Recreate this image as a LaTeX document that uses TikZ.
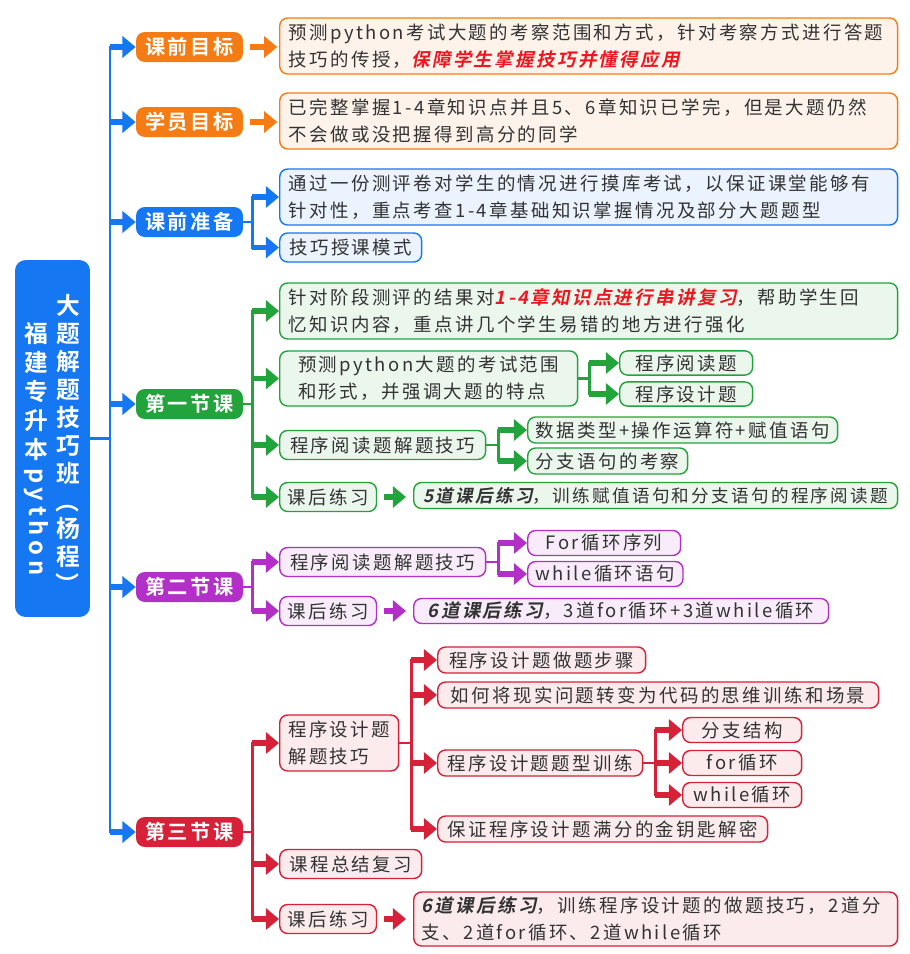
\documentclass[tikz,border=0pt]{standalone}
\usepackage{fontspec}
\setmainfont{Noto Sans CJK SC}[LetterSpace=13, BoldFont={Noto Sans CJK SC Bold}]
\newfontfamily\slbold{Noto Sans CJK SC Bold}[FakeSlant=0.2, LetterSpace=13]
\usepackage{xcolor}
\usetikzlibrary{arrows.meta}
\definecolor{corange}{HTML}{F57C14}
\definecolor{cblue}{HTML}{1677F2}
\definecolor{cgreen}{HTML}{22A33B}
\definecolor{cpurple}{HTML}{B22FC8}
\definecolor{cred}{HTML}{D62139}
\definecolor{hotred}{HTML}{EE1620}
\definecolor{inkdark}{HTML}{333333}
\newcommand{\redhl}[1]{{\slbold\color{hotred}#1}}
\newcommand{\blkhl}[1]{{\slbold\color{inkdark}#1}}
\tikzset{
  titlebox/.style={
    fill=cblue,
    rounded corners=6pt,
    minimum width=1.5cm,
    minimum height=7.14cm
  },
  titletext/.style={
    text=white,
    align=center,
    inner sep=0pt,
    anchor=north
  },
  topicbox/.style={
    fill=#1,
    text=white,
    rounded corners=5pt,
    minimum width=2.14cm,
    minimum height=0.6cm,
    inner sep=2pt,
    font=\fontsize{11.5}{13}\selectfont\bfseries
  },
  leafbox/.style={
    draw=#1,
    fill=#1!9,
    line width=0.8pt,
    rounded corners=4.5pt,
    text=inkdark,
    inner xsep=4.5pt,
    inner ysep=2pt,
    minimum height=0.52cm,
    align=left,
    anchor=west,
    font=\fontsize{10.5}{15.3}\selectfont
  },
  widebox/.style={
    minimum width=12.36cm,
    text width=12.0cm,
    minimum height=1.12cm
  },
  trunk/.style={draw=#1, line width=1.6pt, line cap=rect},
  flow/.style={draw=#1, line width=3.4pt, -{Triangle[length=7.5pt,width=12pt]}}
}
\begin{document}
\begin{tikzpicture}[x=0.02cm, y=-0.02cm]
  \useasboundingbox[fill=white] (0,0) rectangle (910,954);

  % title
  \node[titlebox] (root) at (52.5,438.5) {};
  \node[titletext, font=\fontsize{13.5}{15.9}\selectfont\bfseries] (ttl) at (68,294)
    {大\\题\\解\\题\\技\\巧\\班\\\rotatebox[origin=c]{-90}{（}\\杨\\程\\\rotatebox[origin=c]{-90}{）}};
  \node[titletext, font=\fontsize{13.5}{16.5}\selectfont\bfseries] (sub) at (36,322)
    {福\\建\\专\\升\\本\\[-11pt]\rotatebox{-90}{\addfontfeatures{LetterSpace=20}python}};

  % level one
  \node[topicbox=corange] (pre) at (189.5,47) {课前目标};
  \node[topicbox=corange] (who) at (189.5,122) {学员目标};
  \node[topicbox=cblue] (prep) at (189.5,222) {课前准备};
  \node[topicbox=cgreen] (les1) at (189.5,404) {第一节课};
  \node[topicbox=cpurple] (les2) at (189.5,587) {第二节课};
  \node[topicbox=cred] (les3) at (189.5,832) {第三节课};

  % goals and preparation
  \node[leafbox=corange, widebox] (preD) at (279,46) {预测python考试大题的考察范围和方式，针对考察方式进行答题\\技巧的传授，\redhl{保障学生掌握技巧并懂得应用}};
  \node[leafbox=corange, widebox] (whoD) at (279,121) {已完整掌握1-4章知识点并且5、6章知识已学完，但是大题仍然\\不会做或没把握得到高分的同学};
  \node[leafbox=cblue, widebox] (prepA) at (279,197) {通过一份测评卷对学生的情况进行摸库考试，以保证课堂能够有\\针对性，重点考查1-4章基础知识掌握情况及部分大题题型};
  \node[leafbox=cblue, minimum width=2.84cm, minimum height=0.58cm] (prepB) at (279,247.5) {技巧授课模式};

  % lesson one
  \node[leafbox=cgreen, widebox] (l1a) at (279,311) {针对阶段测评的结果对\redhl{1-4章知识点进行串讲复习}，帮助学生回\\忆知识内容，重点讲几个学生易错的地方进行强化};
  \node[leafbox=cgreen, minimum width=5.96cm, minimum height=1.1cm] (l1b) at (279,378.5) {预测python大题的考试范围\\和形式，并强调大题的特点};
  \node[leafbox=cgreen, minimum width=2.66cm, minimum height=0.48cm] (l1b1) at (619,363) {程序阅读题};
  \node[leafbox=cgreen, minimum width=2.66cm, minimum height=0.48cm] (l1b2) at (619,394) {程序设计题};
  \node[leafbox=cgreen, minimum width=4.12cm, minimum height=0.58cm] (l1c) at (279,445) {程序阅读题解题技巧};
  \node[leafbox=cgreen, minimum width=6.2cm] (l1c1) at (527,430) {数据类型+操作运算符+赋值语句};
  \node[leafbox=cgreen, minimum width=3.2cm] (l1c2) at (527,461) {分支语句的考察};
  \node[leafbox=cgreen, minimum width=1.88cm, minimum height=0.58cm] (l1d) at (279,497) {课后练习};
  \node[leafbox=cgreen, minimum width=9.68cm, font=\fontsize{10}{15}\selectfont] (l1d1) at (413,495.5) {\blkhl{5道课后练习}，训练赋值语句和分支语句的程序阅读题};

  % lesson two
  \node[leafbox=cpurple, minimum width=4.12cm, minimum height=0.58cm] (l2a) at (279,562) {程序阅读题解题技巧};
  \node[leafbox=cpurple, minimum width=3.06cm, minimum height=0.5cm] (l2a1) at (527,543) {For循环序列};
  \node[leafbox=cpurple, minimum width=3.06cm, minimum height=0.5cm] (l2a2) at (527,574) {while循环语句};
  \node[leafbox=cpurple, minimum width=1.88cm, minimum height=0.58cm] (l2b) at (279,611) {课后练习};
  \node[leafbox=cpurple, minimum width=8.3cm, minimum height=0.5cm] (l2b1) at (413,611) {\blkhl{6道课后练习}，3道for循环+3道while循环};

  % lesson three
  \node[leafbox=cred, minimum width=2.38cm, minimum height=1.12cm] (l3a) at (279,743) {程序设计题\\解题技巧};
  \node[leafbox=cred, minimum width=4.16cm] (l3a1) at (437,660) {程序设计题做题步骤};
  \node[leafbox=cred, minimum width=8.82cm] (l3a2) at (437,695) {如何将现实问题转变为代码的思维训练和场景};
  \node[leafbox=cred, minimum width=4.1cm] (l3a3) at (437,763) {程序设计题题型训练};
  \node[leafbox=cred, minimum width=2.38cm, minimum height=0.5cm] (l3a31) at (682,730) {分支结构};
  \node[leafbox=cred, minimum width=2.38cm, minimum height=0.5cm] (l3a32) at (682,763) {for循环};
  \node[leafbox=cred, minimum width=2.38cm, minimum height=0.5cm] (l3a33) at (682,795) {while循环};
  \node[leafbox=cred, minimum width=6.6cm] (l3a4) at (437,829) {保证程序设计题满分的金钥匙解密};
  \node[leafbox=cred, minimum width=2.84cm, minimum height=0.58cm] (l3b) at (279,864) {课程总结复习};
  \node[leafbox=cred, minimum width=1.88cm, minimum height=0.58cm] (l3c) at (279,919) {课后练习};
  \node[leafbox=cred, minimum width=9.68cm, text width=9.36cm, minimum height=1.08cm] (l3c1) at (413,919) {\blkhl{6道课后练习}，训练程序设计题的做题技巧，2道分\\支、2道for循环、2道while循环};

  % main spine
  \coordinate (hub) at (110,438.5);
  \draw[trunk=cblue] (root.east) -- (hub);
  \draw[trunk=cblue] (hub |- pre.west) -- (hub |- les3.west);
  \draw[flow=cblue] (hub |- pre.west) -- (pre.west);
  \draw[flow=cblue] (hub |- who.west) -- (who.west);
  \draw[flow=cblue] (hub |- prep.west) -- (prep.west);
  \draw[flow=cblue] (hub |- les1.west) -- (les1.west);
  \draw[flow=cblue] (hub |- les2.west) -- (les2.west);
  \draw[flow=cblue] (hub |- les3.west) -- (les3.west);

  % goals
  \draw[flow=corange, shorten <=4pt, shorten >=1pt] (pre.east) -- (pre.east -| preD.west);
  \draw[flow=corange, shorten <=4pt, shorten >=1pt] (who.east) -- (who.east -| whoD.west);
  \draw[trunk=cblue] (prep.east) -- ++(9,0) coordinate (jprep);
  \draw[trunk=cblue] (jprep |- prepA.west) -- (jprep |- prepB.west);
  \draw[flow=cblue] (jprep |- prepA.west) -- (prepA.west);
  \draw[flow=cblue] (jprep |- prepB.west) -- (prepB.west);

  % lesson one links
  \draw[trunk=cgreen] (les1.east) -- ++(9,0) coordinate (jl1);
  \draw[trunk=cgreen] (jl1 |- l1a.west) -- (jl1 |- l1d.west);
  \draw[flow=cgreen] (jl1 |- l1a.west) -- (l1a.west);
  \draw[flow=cgreen] (jl1 |- l1b.west) -- (l1b.west);
  \draw[flow=cgreen] (jl1 |- l1c.west) -- (l1c.west);
  \draw[flow=cgreen] (jl1 |- l1d.west) -- (l1d.west);
  \draw[trunk=cgreen] (l1b.east) -- ++(11,0) coordinate (jl1b);
  \draw[trunk=cgreen] (jl1b |- l1b1.west) -- (jl1b |- l1b2.west);
  \draw[flow=cgreen] (jl1b |- l1b1.west) -- (l1b1.west);
  \draw[flow=cgreen] (jl1b |- l1b2.west) -- (l1b2.west);
  \draw[trunk=cgreen] (l1c.east) -- ++(12,0) coordinate (jl1c);
  \draw[trunk=cgreen] (jl1c |- l1c1.west) -- (jl1c |- l1c2.west);
  \draw[flow=cgreen] (jl1c |- l1c1.west) -- (l1c1.west);
  \draw[flow=cgreen] (jl1c |- l1c2.west) -- (l1c2.west);
  \draw[flow=cgreen, shorten <=4pt, shorten >=4pt] (l1d.east) -- (l1d.east -| l1d1.west);

  % lesson two links
  \draw[trunk=cpurple] (les2.east) -- ++(9,0) coordinate (jl2);
  \draw[trunk=cpurple] (jl2 |- l2a.west) -- (jl2 |- l2b.west);
  \draw[flow=cpurple] (jl2 |- l2a.west) -- (l2a.west);
  \draw[flow=cpurple] (jl2 |- l2b.west) -- (l2b.west);
  \draw[trunk=cpurple] (l2a.east) -- ++(12,0) coordinate (jl2a);
  \draw[trunk=cpurple] (jl2a |- l2a1.west) -- (jl2a |- l2a2.west);
  \draw[flow=cpurple] (jl2a |- l2a1.west) -- (l2a1.west);
  \draw[flow=cpurple] (jl2a |- l2a2.west) -- (l2a2.west);
  \draw[flow=cpurple, shorten <=4pt, shorten >=4pt] (l2b.east) -- (l2b.east -| l2b1.west);

  % lesson three links
  \draw[trunk=cred] (les3.east) -- ++(9,0) coordinate (jl3);
  \draw[trunk=cred] (jl3 |- l3a.west) -- (jl3 |- l3c.west);
  \draw[flow=cred] (jl3 |- l3a.west) -- (l3a.west);
  \draw[flow=cred] (jl3 |- l3b.west) -- (l3b.west);
  \draw[flow=cred] (jl3 |- l3c.west) -- (l3c.west);
  \draw[trunk=cred] (l3a.east) -- ++(12,0) coordinate (jl3a);
  \draw[trunk=cred] (jl3a |- l3a1.west) -- (jl3a |- l3a4.west);
  \draw[flow=cred] (jl3a |- l3a1.west) -- (l3a1.west);
  \draw[flow=cred] (jl3a |- l3a2.west) -- (l3a2.west);
  \draw[flow=cred] (jl3a |- l3a3.west) -- (l3a3.west);
  \draw[flow=cred] (jl3a |- l3a4.west) -- (l3a4.west);
  \draw[trunk=cred] (l3a3.east) -- ++(12,0) coordinate (jl3b);
  \draw[trunk=cred] (jl3b |- l3a31.west) -- (jl3b |- l3a33.west);
  \draw[flow=cred] (jl3b |- l3a31.west) -- (l3a31.west);
  \draw[flow=cred] (jl3b |- l3a32.west) -- (l3a32.west);
  \draw[flow=cred] (jl3b |- l3a33.west) -- (l3a33.west);
  \draw[flow=cred, shorten <=4pt, shorten >=4pt] (l3c.east) -- (l3c.east -| l3c1.west);
\end{tikzpicture}
\end{document}
